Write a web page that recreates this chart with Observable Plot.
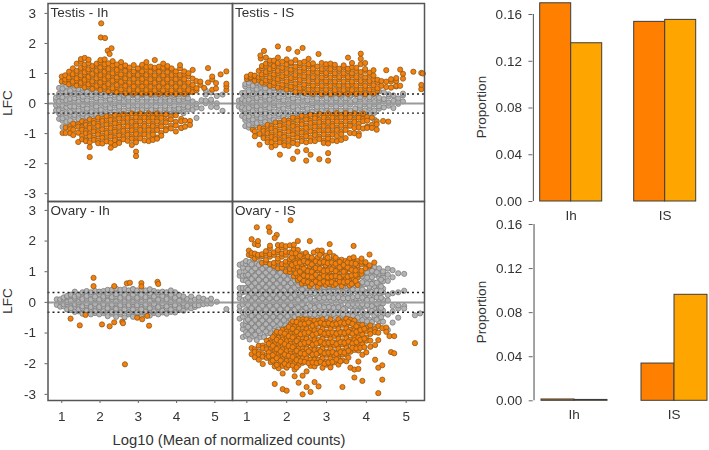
<!DOCTYPE html>
<html><head><meta charset="utf-8">
<script src="https://cdn.jsdelivr.net/npm/d3@7"></script>
<script src="https://cdn.jsdelivr.net/npm/@observablehq/plot@0.6"></script>
<style>
html,body{margin:0;padding:0;background:#fff}
#c{position:relative;width:709px;height:450px;overflow:hidden;font-family:"Liberation Sans",Arial,sans-serif;color:#333}
#c svg{position:absolute;overflow:visible;background:none;filter:blur(.35px)}
#xl{position:absolute;left:0;width:458px;text-align:center;top:432px;font-size:14.8px;line-height:16px}
</style></head><body><div id="c"><div id="xl">Log10 (Mean of normalized counts)</div></div>
<script>
// every row: log10 mean, then the LFC readings ×100 in that column
const testisIhGrey=[[.85,-23,-6,11,20],[.93,-51,-33,-22,-3,7,25,33,52],[1.02,-78,-57,-49,-30,-15,-7,12,21,41,50,69],[1.12,-70,-61,-41,-32,-12,1,11,30,39,58,72],[1.22,-66,-56,-37,-28,-9,5,15,34,43,62,66],[1.33,-69,-47,-38,-19,-10,9,18,32,51,60],[1.44,-61,-52,-32,-23,-3,6,26,35,48,63],[1.55,-63,-43,-34,-14,-5,14,23,43,51],[1.66,-53,-45,-25,-17,3,11,31,39,55],[1.78,-56,-36,-28,-8,0,20,28,48,47],[1.9,-45,-38,-18,-10,10,18,38,43],[2.02,-49,-29,-21,-1,7,27,35,47],[2.14,-40,-32,-12,-4,16,24,43],[2.26,-43,-23,-15,5,13,33,35],[2.38,-35,-27,-7,1,21,29,39],[2.5,-38,-18,-10,10,18,36],[2.62,-31,-23,-3,5,25,29],[2.74,-36,-16,-8,12,20,36],[2.86,-29,-21,-1,7,27,30],[2.98,-35,-14,-6,14,22,36],[3.1,-29,-21,-1,7,27,30],[3.22,-36,-16,-8,12,20,35],[3.34,-29,-21,-1,7,27,33],[3.46,-35,-17,-9,11,19,30],[3.58,-30,-20,0,8,28,35],[3.7,-35,-16,-8,12,20,30],[3.82,-27,-19,1,9,29,34],[3.94,-34,-15,-7,13,21,28],[4.06,-25,-17,3,11,31],[4.18,-32,-13,-5,15,23],[4.3,-19,-11,9,17,34],[4.42,-21,-1,7],[4.52,-48,-13,-1],[4.65,-16,11],[4.76,1,9,30,44],[4.9,-11,8,13,37],[5.05,-12,1,25],[5.2,-24,30]];
const testisIhUp=[[1,74,90],[1.09,72,80,94],[1.19,64,81,87,106],[1.29,67,73,92,98,117],[1.39,60,77,84,102,109,133],[1.5,62,69,87,94,113,119,139,148],[1.6,54,72,79,97,104,122,130,152],[1.7,57,64,82,89,107,114,134,146],[1.8,49,68,74,93,99,118,125],[1.91,53,59,78,84,103,109,128,133],[2.01,45,63,70,88,95,113,120,138,145],[2.12,49,56,74,81,99,106,124,131,147],[2.22,40,59,65,84,90,109,115,134],[2.33,45,51,70,76,95,101,120,127,141],[2.44,37,55,62,80,87,105,112,130],[2.55,41,47,66,72,91,97,116,122,138],[2.66,34,52,59,77,84,102,109,125,127],[2.77,39,45,64,70,89,95,114,120],[2.88,33,50,57,75,82,100,107,128],[2.99,38,45,64,70,89,95,114,117],[3.1,33,50,57,75,82,100,107,125,129],[3.21,37,45,63,70,88,95,113,122,138],[3.32,32,49,56,74,81,99,106,123],[3.43,37,44,63,69,88,94,113,119,145],[3.54,32,50,56,75,81,100,106,123],[3.65,37,44,63,69,88,94,113,119,133],[3.76,32,49,56,74,81,99,105,121,125],[3.87,37,44,63,69,88,95,113,117],[3.98,32,50,56,75,81,99,107],[4.09,37,44,63,69,88,95,117,128],[4.2,32,49,56,75,81,99,107],[4.31,38,45,64,70,91,101],[4.42,38,55,62,83,112],[4.52,44,51,75],[4.62,62,73],[4.72,52],[4.82,118,70],[4.93,46,80,90],[5.03,50,68],[5.15,97],[5.3,45,57,66,107]];
const testisIhDown=[[1.02,-98],[1.1,-80,-98],[1.22,-75,-85,-99],[1.3,-67,-87,-105],[1.43,-69,-77,-97,-128],[1.53,-59,-79,-87,-107,-119],[1.63,-63,-71,-91,-99,-119,-125],[1.73,-53,-73,-81,-101,-109,-129,-145,-178],[1.84,-57,-65,-85,-93,-113,-121],[1.95,-47,-67,-75,-95,-103,-123,-132],[2.06,-50,-58,-78,-86,-106,-114,-133],[2.17,-42,-62,-70,-90,-98,-118,-126],[2.28,-46,-54,-74,-82,-102,-110,-130,-147],[2.39,-38,-58,-66,-86,-94,-114,-122,-138],[2.5,-42,-50,-70,-78,-98,-106,-126,-131],[2.61,-35,-55,-63,-83,-91,-111,-119],[2.72,-40,-48,-68,-76,-96,-104,-124],[2.83,-33,-53,-61,-81,-89,-109,-117,-138],[2.94,-38,-46,-66,-74,-94,-102,-122,-129,-160,-175],[3.05,-33,-52,-60,-80,-88,-108,-116],[3.16,-39,-47,-67,-75,-95,-103,-123],[3.27,-33,-52,-60,-80,-88,-108,-125],[3.38,-39,-47,-67,-75,-95,-103,-121],[3.49,-33,-52,-60,-80,-88,-113,-117],[3.6,-40,-48,-68,-76,-98,-107],[3.72,-36,-55,-63,-83,-89],[3.85,-43,-53,-73,-83],[3.98,-39,-61,-73,-93],[4.12,-51,-59,-81,-81],[4.22,-57,-77],[4.35,-58,-71]];
const testisIhOutliers=[[2.03,267],[2.02,220],[2.13,218],[2.2,176],[2.3,184],[2.25,165]];
const testisIsGrey=[[.8,-10,10],[.88,-41,-21,-13,7,15,35],[.96,-75,-55,-47,-27,-19,1,9,29,37,57,65],[1.05,-80,-71,-51,-43,-23,-15,5,13,33,41,61,69,82],[1.15,-81,-61,-53,-33,-25,-5,3,23,31,51,59,79],[1.25,-73,-65,-45,-37,-17,-9,11,19,39,47,67,70],[1.35,-77,-57,-49,-29,-21,-1,7,27,35,55,63],[1.46,-69,-61,-41,-33,-13,-5,15,23,43,51,65],[1.57,-71,-51,-43,-23,-15,5,13,33,41,60],[1.68,-62,-54,-34,-26,-6,2,22,30,50,53],[1.8,-63,-43,-35,-15,-7,13,21,41,47],[1.92,-53,-45,-25,-17,3,11,31,39,50],[2.04,-57,-37,-29,-9,-1,19,27,47],[2.16,-47,-39,-19,-11,9,17,37,39],[2.28,-49,-29,-21,-1,7,27,35],[2.4,-41,-33,-13,-5,15,23,39],[2.52,-45,-25,-17,3,11,31,32],[2.64,-35,-27,-7,1,21,29],[2.76,-39,-19,-11,9,17,36],[2.88,-32,-24,-4,4,24,30],[3,-38,-17,-9,11,19,35],[3.12,-31,-23,-3,5,25,30],[3.24,-38,-18,-10,10,18,35],[3.36,-31,-23,-3,5,25,30],[3.48,-38,-18,-10,10,18,36],[3.6,-31,-23,-3,5,25,29],[3.72,-45,-25,-17,3,11,31,30],[3.84,-43,-35,-15,-7,13,21,36],[3.96,-51,-31,-23,-3,5,25,31],[4.08,-43,-35,-15,-7,13,21,39],[4.2,-53,-31,-23,-3,5,25,33],[4.32,-17,-9,11,19,41],[4.44,-13,7,15,37],[4.56,-7,3,23,31],[4.68,-15,5,9,27],[4.8,-1,5,17],[4.92,7,27,33]];
const testisIsUp=[[1,82,90],[1.1,84,88,96],[1.2,76,91,93],[1.3,79,87,109],[1.38,69,89,97,117,125],[1.48,69,77,97,105,125,133,153],[1.58,59,79,87,107,115,135,143],[1.68,61,69,89,97,117,125,143],[1.78,53,73,81,101,109,129,135,153],[1.89,55,63,83,91,111,119,139],[2,46,66,74,94,102,122,130,147],[2.11,49,57,77,85,105,113,133,137],[2.22,39,59,67,87,95,115,123,145],[2.33,43,51,71,79,99,107,127,135],[2.44,35,55,63,83,91,111,119,139],[2.55,39,47,67,75,95,103,123,131,149],[2.66,32,52,60,80,88,108,116,134],[2.77,39,47,67,75,95,103,123],[2.88,31,51,59,79,87,107,115,135],[2.99,38,46,66,74,94,102,122,131],[3.1,31,51,59,79,87,107,115,133],[3.21,37,45,65,73,93,101,121,129],[3.32,32,52,60,80,88,108,116],[3.43,37,45,65,73,93,101,121,127],[3.54,32,52,60,80,88,108,116,153],[3.64,37,45,65,73,93,101,121,135],[3.75,32,52,60,80,88,108,119],[3.86,39,47,67,75,95,105,131,149,166],[3.97,31,51,59,79,87,109,115,135],[4.08,39,47,67,75,95,103],[4.18,33,53,61,81,93,111],[4.28,43,51,71,79],[4.38,59,75],[4.5,55,73,111],[4.62,53,73,81],[4.75,57,59,75,85],[4.85,59,113],[4.92,99,83],[5.18,106],[5.38,48,62,102],[5.42,100]];
const testisIsDown=[[1.15,-87],[1.2,-93,-109],[1.32,-81,-101,-137],[1.42,-83,-91,-111,-115],[1.52,-71,-91,-99,-119,-129],[1.62,-75,-83,-103,-111,-129,-145],[1.72,-63,-83,-91,-111,-119,-139],[1.83,-65,-73,-93,-101,-121,-129,-170],[1.94,-55,-75,-83,-103,-111,-131,-139],[2.05,-57,-65,-85,-93,-113,-121,-141],[2.16,-47,-67,-75,-95,-103,-123,-131,-184],[2.27,-49,-57,-77,-85,-105,-113,-135,-160],[2.38,-41,-61,-69,-89,-97,-117,-125],[2.49,-45,-53,-73,-81,-101,-109,-129,-155,-190],[2.6,-37,-57,-65,-85,-93,-113,-125,-170],[2.71,-41,-49,-69,-77,-97,-105,-125],[2.82,-34,-54,-62,-82,-90,-110,-118,-185],[2.93,-39,-47,-67,-75,-95,-103,-123,-131],[3.04,-33,-53,-61,-81,-89,-109,-117,-133,-165,-190],[3.15,-39,-47,-67,-75,-95,-103,-123],[3.26,-32,-52,-60,-80,-88,-108,-125],[3.37,-38,-46,-66,-74,-94,-102,-121],[3.48,-32,-52,-60,-80,-88,-115],[3.59,-38,-46,-66,-74,-98],[3.7,-33,-53,-61,-81,-99],[3.81,-39,-47,-67,-79,-99,-107],[3.92,-33,-51,-59,-83],[4.02,-45,-57,-77,-81],[4.14,-47,-71,-81],[4.26,-59,-69,-87],[4.42,-58],[4.55,-60]];
const testisIsOutliers=[[1.78,190],[1.43,175],[2.05,182],[2.27,172],[2.4,185],[2.8,165],[1.35,150],[1.34,160]];
const ovaryIhGrey=[[.87,-8,10],[.96,-14,3,10],[1.05,-13,-6,11,16],[1.14,-23,-5,1,19,21],[1.24,-25,-19,-1,5,23,25],[1.34,-31,-11,-5,13,19,35],[1.44,-29,-23,-5,1,19,25],[1.54,-37,-19,-13,5,11,29,33],[1.65,-34,-27,-9,-3,15,21,37],[1.76,-39,-21,-15,3,9,27,33],[1.87,-35,-29,-11,-5,13,19,37],[1.98,-39,-21,-15,3,9,27,35],[2.09,-35,-29,-11,-5,13,19,37],[2.2,-45,-25,-19,-1,5,23,29,41],[2.31,-37,-31,-13,-7,11,17,35,41],[2.42,-47,-27,-21,-3,3,21,27,45],[2.53,-39,-33,-15,-9,9,15,33,41],[2.64,-49,-29,-23,-5,1,19,25,43],[2.75,-39,-33,-15,-9,9,15,33,39],[2.86,-47,-29,-23,-5,1,19,25,43,43],[2.97,-39,-33,-15,-9,9,15,33,39],[3.08,-47,-29,-23,-5,1,19,25,43],[3.19,-37,-31,-13,-7,11,17,35,39],[3.3,-43,-25,-19,-1,5,23,29,43],[3.41,-35,-29,-11,-5,13,19,37],[3.52,-39,-21,-15,3,9,27,33],[3.63,-33,-27,-9,-3,15,21,35],[3.74,-37,-19,-13,5,11,29,33],[3.85,-31,-23,-5,1,19,25,39],[3.96,-33,-15,-9,9,15,33],[4.07,-25,-19,-1,5,23,23],[4.18,-27,-9,-3,15,19],[4.28,-17,-11,7,11],[4.38,-19,-1,5,19],[4.48,-15,-9,9],[4.58,-10,8,16],[4.7,-6,12],[4.8,-4,6],[4.9,-4,12],[5.05,2],[5.3,-22]];
const ovaryIhOrange=[[1.83,80,53],[2.37,53],[2.7,62],[2.78,64],[3.08,63,52],[3.5,67],[3.52,60],[1.23,-53],[1.47,-75],[1.62,-41],[2.05,-72],[2.25,-78],[2.37,-65],[2.58,-63],[2.6,-68],[2.97,-50],[3.1,-55],[3.23,-44],[3.28,-76],[2.65,-202]];
const ovaryIsGrey=[[.82,-53,-27,-13,13,27,47,87,99,123],[.9,-113,-87,-73,-47,-33,-7,7,33,47,73,87,113,127],[.98,-109,-97,-73,-61,-37,-25,-1,11,35,47,71,89,101,125,135],[1.07,-121,-97,-85,-61,-49,-25,-13,11,23,47,59,83,95,119,131],[1.16,-111,-99,-75,-63,-39,-27,-3,9,33,45,69,81,105,117,141],[1.25,-123,-99,-87,-63,-51,-27,-15,9,21,45,57,81,93,117,127],[1.34,-113,-101,-77,-65,-41,-29,-5,7,31,43,67,79,103,115,131],[1.43,-113,-89,-77,-53,-41,-17,-5,19,31,55,67,91,103,127],[1.52,-101,-89,-65,-53,-29,-17,7,19,43,55,79,91,115,127],[1.61,-101,-77,-65,-41,-29,-5,7,31,43,67,79,103,115],[1.7,-89,-77,-53,-41,-17,-5,19,31,55,67,91,103,125],[1.79,-89,-65,-53,-29,-17,7,19,43,55,79,91,115],[1.88,-77,-65,-41,-29,-5,7,31,43,67,79,103,113],[1.97,-75,-51,-39,-15,-3,21,33,57,69,93,105],[2.06,-63,-51,-27,-15,9,21,45,57,81,93,113],[2.15,-65,-41,-29,-5,7,31,43,67,79,103],[2.24,-55,-43,-19,-7,17,29,53,65,89],[2.34,-59,-35,-23,1,13,37,49,73],[2.44,-49,-37,-13,-1,23,35,59,63],[2.54,-53,-29,-17,7,19,43,55],[2.64,-45,-33,-9,3,27,39,59],[2.76,-49,-25,-13,11,23,47,51],[2.88,-43,-31,-7,5,29,41,55],[3,-49,-25,-13,11,23,47,51],[3.12,-43,-31,-7,5,29,41,59],[3.24,-49,-25,-13,11,23,47,53],[3.36,-45,-33,-9,3,27,39,61],[3.48,-53,-29,-17,7,19,43,55],[3.6,-49,-37,-13,-1,23,35,59,67],[3.72,-59,-35,-23,1,13,37,49,73,79],[3.84,-59,-47,-23,-11,13,25,49,61,85,93],[3.96,-73,-49,-37,-13,-1,23,35,59,71,95,101],[4.08,-69,-57,-33,-21,3,15,39,51,75,87,109],[4.2,-79,-55,-43,-19,-7,17,29,53,65,89,101,115],[4.32,-63,-51,-27,-15,9,21,45,57,81,93,111],[4.42,-63,-37,-27,-3,9,33,45,69,81,95,101],[4.54,-90,-40,6,24,70,90,110],[4.66,-66,-30,-12,30,82,105],[4.8,-50,-20,-10,33,95],[4.95,-12,-20,38,93],[5.22,-42],[5.35,-36]];
const ovaryIsGreyFill=[[1.03,-104,-80,-56,-32,-8,17,41,64,90,110],[1.12,-92,-68,-44,-19,4,29,52,76,101,124],[1.21,-106,-81,-57,-33,-8,15,39,63,87,111],[1.3,-93,-70,-46,-21,3,27,50,74,98,122],[1.39,-84,-59,-35,-11,13,37,61,85,109],[1.48,-95,-71,-47,-23,1,25,49,73,97,120],[1.57,-83,-59,-35,-11,13,37,61,85,107],[1.66,-71,-47,-23,1,25,49,73,97],[1.75,-60,-35,-11,13,37,61,85,109],[1.84,-71,-47,-23,1,25,49,73,97],[1.93,-58,-34,-10,15,39,63,87,108],[2.02,-45,-21,3,27,51,75,99],[2.11,-57,-33,-9,15,39,63,87],[2.2,-48,-24,0,24,48,72,95],[2.29,-40,-16,8,32,56,68],[2.39,-30,-6,18,42,60],[2.49,-42,-18,6,30,52],[2.59,-38,-12,12,33,50],[2.7,-40,-18,5,30,52],[2.82,-35,-12,14,36,48],[2.94,-38,-16,15,34,50],[3.06,-34,-15,17,35,52],[3.18,-38,-18,14,35,50],[3.3,-36,-16,17,36,52],[3.42,-40,-22,13,33,50],[3.54,-42,-8,14,30,52],[3.66,-44,-28,-5,17,42,64],[3.78,-50,-28,-5,20,42,60,88],[3.9,-58,-30,-6,16,42,66,86],[4.02,-62,-42,-9,8,30,62,81,98],[4.14,-64,-28,-12,8,34,60,82,103],[4.26,-56,-34,-4,16,38,64,98],[4.37,-48,-18,15,38,52,74]];
const ovaryIsUp=[[1.05,155,169],[1.12,153,161,206],[1.2,143,159,190],[1.28,149,155,187,200],[1.38,129,151,157],[1.48,131,139,159,167],[1.58,125,149,157,177,185],[1.68,119,129,155,163],[1.78,111,133,143,163,171,187],[1.88,113,125,149,159,179,187],[1.98,101,123,133,155,165,183],[2.08,99,109,131,141,163,186],[2.18,85,109,119,141,151,173,173,188],[2.28,73,85,107,117,139,149,171,200],[2.38,61,83,93,115,125,147,157],[2.48,63,73,95,105,127,137,159,161],[2.58,53,77,87,109,119,141,147,200],[2.68,65,75,97,107,129,139,163],[2.78,51,73,83,105,115,137,147,169],[2.88,61,73,95,105,127,137,161,169],[2.98,57,79,89,111,121,143,152],[3.08,59,69,91,101,123,133,163,190],[3.18,55,77,87,109,119,141,151],[3.28,65,75,97,107,129,139],[3.38,53,75,85,107,117,139],[3.48,63,73,95,105,127,135],[3.58,55,77,87,109,119,141,143],[3.68,65,77,99,109,131,147,184],[3.78,57,81,91,113,121,135],[3.88,93,103,125,133,143],[3.98,111,127,131],[4.08,117,121,156],[4.2,130]];
const ovaryIsUpFill=[[2.13,122,146,160],[2.23,95,128,160],[2.33,78,100,130,152],[2.43,70,88,110,135],[2.53,66,85,102,130,150],[2.63,60,82,100,124,146],[2.73,68,90,112,134],[2.83,62,80,110,130,155],[2.93,68,86,102,132],[3.03,64,82,104,128,146],[3.13,66,84,108,130],[3.23,60,86,102,126,146],[3.33,68,82,114,132],[3.43,66,90,100,122],[3.53,68,84,114,130],[3.63,60,88,106,128],[3.73,70,90,104,126]];
const ovaryIsDown=[[1.12,-149,-169],[1.2,-153,-161,-179],[1.3,-141,-161,-169,-187],[1.4,-141,-149,-169,-177,-201],[1.5,-125,-145,-153,-173,-181],[1.6,-121,-131,-153,-163,-183,-195],[1.7,-105,-127,-137,-159,-169,-195,-209,-266],[1.8,-105,-115,-137,-147,-169,-179,-203,-215],[1.9,-89,-111,-121,-143,-153,-175,-185,-207,-232,-283],[2,-85,-95,-117,-127,-149,-159,-181,-191,-213,-288],[2.1,-71,-93,-103,-125,-135,-157,-167,-189,-199],[2.2,-69,-79,-101,-111,-133,-143,-165,-175,-197,-219,-241],[2.3,-55,-77,-87,-109,-119,-141,-151,-173,-183,-205,-262],[2.4,-55,-65,-87,-97,-119,-129,-151,-161,-183,-197,-239,-300],[2.5,-55,-77,-87,-109,-119,-141,-151,-173,-183,-225,-276],[2.6,-59,-69,-91,-101,-123,-133,-155,-165,-187,-207,-292],[2.7,-59,-81,-91,-113,-123,-145,-155,-177,-187,-209,-260],[2.8,-59,-69,-91,-101,-123,-133,-155,-165,-187,-197,-274],[2.9,-55,-77,-87,-109,-119,-141,-151,-173,-183,-213],[3,-65,-75,-97,-107,-129,-139,-161,-171,-193,-203],[3.1,-55,-77,-87,-109,-119,-141,-151,-173,-183,-205,-212],[3.2,-67,-77,-99,-109,-131,-141,-163,-173,-195],[3.3,-55,-77,-87,-109,-119,-141,-151,-173,-183,-203],[3.4,-63,-73,-95,-105,-127,-137,-159,-169,-189,-276],[3.5,-53,-75,-85,-107,-117,-139,-149,-171,-192],[3.6,-57,-67,-89,-99,-121,-131,-153,-161,-213],[3.7,-59,-81,-91,-113,-123,-145,-155,-245,-219],[3.8,-73,-83,-105,-115,-137,-157,-193,-217],[3.9,-73,-95,-105,-127,-137,-171,-256],[4,-83,-93,-115,-125,-163],[4.1,-75,-93,-103,-125,-145],[4.22,-87,-97,-139,-187],[4.3,-77,-99,-123,-213,-296],[4.4,-84,-205,-252],[4.5,-82,-96],[4.58,-110],[4.62,-162],[4.7,-110,-166],[5.22,-133]];
const ovaryIsDownFill=[[1.55,-135,-163,-176],[1.65,-113,-142,-172,-190],[1.75,-96,-122,-152,-182,-204],[1.85,-98,-128,-160,-190],[1.95,-102,-136,-170,-200],[2.05,-80,-110,-142,-174,-205],[2.15,-62,-86,-114,-146,-178,-206],[2.25,-64,-96,-126,-158,-188,-212],[2.35,-70,-104,-136,-166,-192],[2.45,-70,-100,-132,-168,-194],[2.55,-66,-98,-130,-160,-198],[2.65,-76,-106,-138,-170,-196],[2.75,-70,-102,-134,-168,-198],[2.85,-66,-96,-128,-160,-194],[2.95,-70,-102,-134,-166,-200],[3.05,-68,-100,-132,-164,-196],[3.15,-72,-98,-130,-162,-194],[3.25,-70,-102,-136,-168,-186],[3.35,-66,-98,-130,-162,-192],[3.45,-68,-100,-132,-164],[3.55,-64,-96,-128,-158,-180],[3.65,-70,-102,-134,-148],[3.75,-78,-96,-130,-150],[3.85,-90,-122,-148],[3.95,-86,-118,-146]];
const ovaryIsOutliers=[[2.1,268],[1.25,245],[1.55,245],[1.57,230],[1.75,220],[1.7,210]];

const groups=["Ih","IS"],series=["a","b"];
const testisBars=[.1696,.1354,.1537,.1554];
const ovaryBars=[.0012,.0008,.0338,.0962];

const grey={fill:"#b4b4b4",stroke:"#7d7d7d"},orange={fill:"#f57f0a",stroke:"#8c5a1e"};
const pts=rows=>rows.flatMap(([x,...ys])=>ys.map(y=>({x,y:y/100})));
const host=document.getElementById("c");
function place(svg,l,t){svg.style.left=l+"px";svg.style.top=t+"px";host.appendChild(svg)}
const num=d=>String(d);

function scatter({title,greyRows,orangeRows,left,top,width,height,mL,mB,yDomain,xTicks,yTicks}){
  const svg=Plot.plot({width,height,marginLeft:mL,marginRight:1,marginTop:1,marginBottom:mB,
    style:{background:"none",fontFamily:"Liberation Sans, Arial, sans-serif",color:"#333",fontSize:"13px"},
    x:{domain:[.64,5.46]},y:{domain:yDomain},
    marks:[
      Plot.dot(pts(greyRows),{x:"x",y:"y",r:2.6,...grey,strokeWidth:.8}),
      Plot.ruleY([0],{stroke:"#9a9a9a",strokeWidth:2}),
      Plot.dot(pts(orangeRows),{x:"x",y:"y",r:2.6,...orange,strokeWidth:.8}),
      Plot.ruleY([-.32,.32],{stroke:"#222",strokeWidth:1.4,strokeDasharray:"2 3"}),
      Plot.frame({stroke:"#555",strokeWidth:1.5}),
      xTicks?Plot.axisX({ticks:[1,2,3,4,5],tickFormat:num,tickSize:3,tickPadding:8,label:null,stroke:"#666",fontSize:13.5}):Plot.axisX({ticks:[],label:null}),
      yTicks?Plot.axisY({ticks:[-3,-2,-1,0,1,2,3],tickFormat:num,tickSize:3,tickPadding:9,label:null,stroke:"#666",fontSize:13.5}):Plot.axisY({ticks:[],label:null}),
      Plot.text([title],{frameAnchor:"top-left",dx:2.5,dy:4,text:d=>d,fontSize:13.5,fill:"#333"})
    ]});
  place(svg,left,top);
}
const dT=[-3.26,3.33],dB=[-3.2,3.29];
scatter({title:"Testis - Ih",greyRows:testisIhGrey,orangeRows:[...testisIhUp,...testisIhDown,...testisIhOutliers],left:0,top:2,width:233,height:200,mL:47.5,mB:1,yDomain:dT,yTicks:true});
scatter({title:"Testis - IS",greyRows:testisIsGrey,orangeRows:[...testisIsUp,...testisIsDown,...testisIsOutliers],left:231,top:2,width:194,height:200,mL:1,mB:1,yDomain:dT});
scatter({title:"Ovary - Ih",greyRows:ovaryIhGrey,orangeRows:ovaryIhOrange,left:0,top:200,width:233,height:230,mL:47.5,mB:30,yDomain:dB,xTicks:true,yTicks:true});
scatter({title:"Ovary - IS",greyRows:[...ovaryIsGrey,...ovaryIsGreyFill],orangeRows:[...ovaryIsUp,...ovaryIsUpFill,...ovaryIsDown,...ovaryIsDownFill,...ovaryIsOutliers],left:231,top:200,width:194,height:230,mL:1,mB:30,yDomain:dB,xTicks:true});

function bars({vals,left,top,width,height,mL,mR,mT,mB,axisDx}){
  const rows=groups.flatMap((g,i)=>series.map((s,j)=>({g,s,v:vals[i*2+j]})));
  const bw=(width-mL-mR)/5;
  const svg=Plot.plot({width,height,marginLeft:mL,marginRight:mR,marginTop:mT,marginBottom:mB,
    style:{background:"none",fontFamily:"Liberation Sans, Arial, sans-serif",color:"#333",fontSize:"13px"},
    fx:{domain:groups,paddingInner:1/3,paddingOuter:0,label:null},
    x:{domain:series,padding:0,axis:null},
    y:{domain:[0,.16]},
    color:{domain:series,range:["#ff8000","#ffa500"]},
    marks:[
      Plot.barY(rows,{fx:"g",x:"s",y:"v",fill:"s",stroke:"#3c3c3c",strokeWidth:1}),
      Plot.ruleX(["a"],{x:d=>d,fx:()=>"Ih",y1:0,y2:.16,dx:-(bw/2+axisDx),stroke:"#666",strokeWidth:1.2}),
      Plot.axisFx({anchor:"bottom",tickSize:0,tickPadding:9,label:null,fontSize:13.5}),
      Plot.axisY({ticks:[0,.04,.08,.12,.16],tickFormat:d3.format(".2f"),tickSize:4,tickPadding:7,label:null,stroke:"#666",fontSize:13.5,anchor:"left",dx:-axisDx})
    ]});
  place(svg,left,top);
}
bars({vals:testisBars,left:470,top:0,width:239,height:240,mL:69.3,mR:13,mT:14,mB:39,axisDx:6.6});
bars({vals:ovaryBars,left:470,top:210,width:239,height:230,mL:70,mR:2.3,mT:14,mB:39.7,axisDx:7.3});

[["LFC",8,102.5],["LFC",8,300.5],["Proportion",482,107],["Proportion",482,312]].forEach(([t,x,y])=>{
  const d=document.createElement("div");
  d.textContent=t;d.style.cssText=`position:absolute;left:${x}px;top:${y}px;font-size:13.5px;line-height:14px;white-space:nowrap;transform:translate(-50%,-50%) rotate(-90deg);`;
  host.appendChild(d);
});
</script></body></html>
